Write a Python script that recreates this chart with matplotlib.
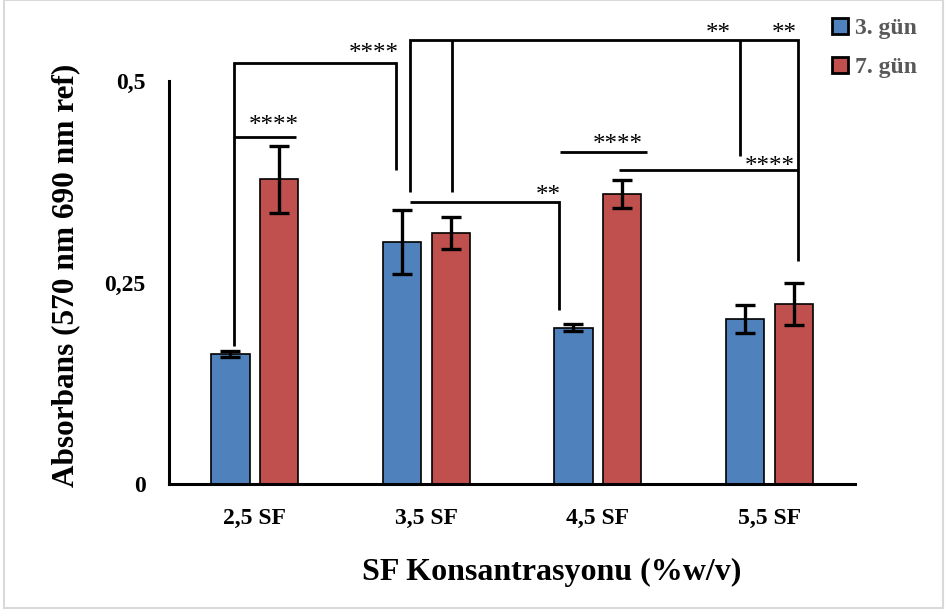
import matplotlib
matplotlib.use('Agg')
import matplotlib.pyplot as plt
import numpy as np
from matplotlib.patches import Rectangle

plt.rcParams['font.family'] = ['Liberation Serif', 'DejaVu Serif']
plt.rcParams['font.weight'] = 'bold'

categories = ['2,5 SF', '3,5 SF', '4,5 SF', '5,5 SF']
series = ['3. gün', '7. gün']
day3 = [0.161, 0.300, 0.194, 0.205]
day3_err = [0.004, 0.040, 0.004, 0.017]
day7 = [0.378, 0.311, 0.360, 0.223]
day7_err = [0.042, 0.020, 0.017, 0.026]
yticks = [0, 0.25, 0.5]
ytick_labels = ['0', '0,25', '0,5']

# significance brackets (x in category units, y in absorbance)
brackets = [
    [(-0.120, 0.171), (-0.120, 0.522), (0.824, 0.522), (0.824, 0.390)],
    [(-0.120, 0.430), (0.238, 0.430)],
    [(0.906, 0.362), (0.906, 0.551), (3.164, 0.551), (3.164, 0.277)],
    [(1.152, 0.551), (1.152, 0.362)],
    [(2.830, 0.551), (2.830, 0.407)],
    [(0.906, 0.350), (1.774, 0.350), (1.774, 0.216)],
    [(1.780, 0.412), (2.284, 0.412)],
    [(2.126, 0.390), (3.164, 0.390)],
]
stars = [
    (0.695, 0.542, '****'),
    (0.109, 0.452, '****'),
    (2.701, 0.566, '**'),
    (3.088, 0.566, '**'),
    (1.710, 0.365, '**'),
    (2.114, 0.429, '****'),
    (3.000, 0.402, '****'),
]

colors = ['#4F81BD', '#C0504D']

fig = plt.figure(figsize=(9.47, 6.14), dpi=100)
ax = fig.add_axes([0.1785, 0.2117, 0.7245, 0.6563])

x = np.arange(len(categories))
w = 0.223
off = 0.142
err_kw = dict(ecolor='black', elinewidth=2.4, capsize=7, capthick=2.4)
for vals, errs, shift, c, lab in [(day3, day3_err, -off, colors[0], series[0]),
                                  (day7, day7_err, off, colors[1], series[1])]:
    ax.bar(x + shift, vals, w, yerr=errs, color=c, edgecolor='black',
           linewidth=1.2, error_kw=err_kw, label=lab, zorder=2)

for pts in brackets:
    xs, ys = zip(*pts)
    ax.plot(xs, ys, color='black', lw=2, clip_on=False, solid_capstyle='butt',
            solid_joinstyle='miter', zorder=3)
for sx, sy, s in stars:
    ax.annotate(s, xy=(sx, sy), xytext=(0, -9), textcoords='offset points',
                ha='center', va='baseline', fontsize=18, fontweight='normal',
                annotation_clip=False)

ax.set_xlim(-0.5, 3.5)
ax.set_ylim(0, 0.5)
ax.set_xticks(x)
ax.set_xticklabels(categories, fontsize=17, fontweight='bold')
ax.set_yticks(yticks)
ax.set_yticklabels(ytick_labels, fontsize=17, fontweight='bold')
ax.tick_params(length=0)
ax.tick_params(axis='x', pad=17)
ax.tick_params(axis='y', pad=17)
for sp in ['top', 'right']:
    ax.spines[sp].set_visible(False)
for sp in ['left', 'bottom']:
    ax.spines[sp].set_linewidth(2.2)

fig.text(0.583, 0.068, 'SF Konsantrasyonu (%w/v)', ha='center', va='center',
         fontsize=23, fontweight='bold')
fig.text(0.069, 0.552, 'Absorbans (570 nm 690 nm ref)', ha='center', va='center',
         rotation=90, fontsize=22.5, fontweight='bold')

leg = fig.legend(loc='upper left', bbox_to_anchor=(0.856, 1.006), frameon=False,
                 handlelength=0.68, handleheight=0.68, handletextpad=0.3,
                 labelspacing=0.75, prop=dict(size=17, weight='bold'))
for t in leg.get_texts():
    t.set_color('#595959')
for h in leg.legend_handles:
    h.set_linewidth(2)

fig.patches.append(Rectangle((0.004, 0.01), 0.992, 0.99, transform=fig.transFigure,
                             fill=False, edgecolor='#d9d9d9', lw=1.5))

fig.savefig('out.png', dpi=100)
